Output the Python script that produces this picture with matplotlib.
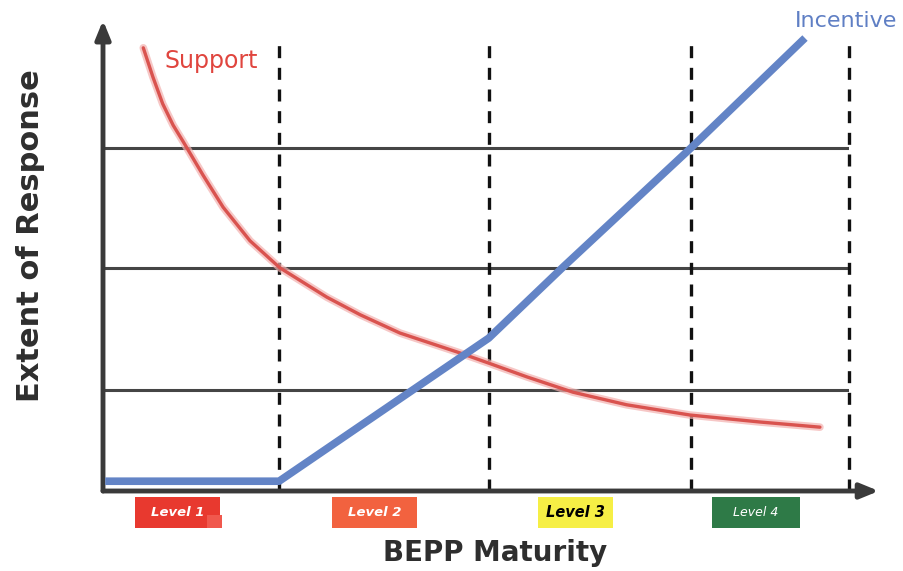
import matplotlib
matplotlib.use("Agg")
import matplotlib.pyplot as plt
from matplotlib.patches import Rectangle

# ---- data (arbitrary "maturity" and "response" units, 0-100) ----
level_labels = ["Level 1", "Level 2", "Level 3", "Level 4"]
level_bounds = [23.6, 51.7, 78.8, 100.0]          # dashed vertical lines
grid_levels = [21.7, 47.9, 73.6]                  # horizontal gridlines

support_x = [5.4, 6.7, 8.0, 9.4, 10.7, 13.4, 16.1, 19.7, 23.7, 30.0, 34.5,
             39.8, 47.9, 51.6, 56.8, 63.0, 70.2, 78.7, 88.1, 96.1]
support_y = [95.1, 88.8, 83.1, 78.5, 75.1, 67.8, 60.9, 53.7, 47.9, 41.6, 37.8,
             33.9, 29.6, 27.5, 24.5, 21.2, 18.5, 16.3, 14.8, 13.7]

incentive_x = [0.3, 23.6, 51.7, 61.7, 78.8, 94.1]
incentive_y = [2.1, 2.1, 32.8, 48.1, 73.6, 97.2]

# ---- layout / styling ----
box_left = [4.3, 30.7, 58.3, 81.6]
box_right = [15.7, 42.1, 68.4, 93.4]
box_colors = ["#e8392f", "#f2623f", "#f6ef45", "#2e7a47"]
box_text_colors = ["white", "white", "black", "white"]
box_text_size = [9.5, 9.5, 10.5, 9]
box_text_weight = ["bold", "bold", "bold", "normal"]

W, H = 904, 571
fig = plt.figure(figsize=(W / 100, H / 100), dpi=100)
fig.patch.set_facecolor("white")

left_px, right_px, bottom_px, top_px = 103, 849, 491, 25
ax = fig.add_axes([left_px / W, (H - bottom_px) / H,
                   (right_px - left_px) / W, (bottom_px - top_px) / H])
ax.set_xlim(0, 100)
ax.set_ylim(0, 100)
ax.axis("off")

axis_col = "#3a3a3a"

# horizontal gridlines
ax.hlines(grid_levels, 0, 100, colors="#454545", linewidth=2.2, zorder=1)

# dashed verticals
for xb in level_bounds:
    ax.vlines(xb, 0, 97.5, colors="#111111", linewidth=2.4,
              linestyles=(0, (3.6, 2.9)), zorder=1, clip_on=False)

# curves
ax.plot(support_x, support_y, color="#f3b0ae", linewidth=5.5, alpha=0.7,
        solid_capstyle="round", zorder=2)
ax.plot(support_x, support_y, color="#d9534f", linewidth=2.4,
        solid_capstyle="round", zorder=3)
ax.plot(incentive_x, incentive_y, color="#6384c6", linewidth=5.5,
        solid_capstyle="butt", zorder=4, clip_on=False)

# axes with arrows
ax.annotate("", xy=(104.0, 0), xytext=(0, 0), xycoords="data",
            annotation_clip=False,
            arrowprops=dict(arrowstyle="-|>,head_length=1.1,head_width=0.45",
                            color=axis_col, lw=3.5, shrinkA=0, shrinkB=0))
ax.annotate("", xy=(0, 101.0), xytext=(0, 0), xycoords="data",
            annotation_clip=False,
            arrowprops=dict(arrowstyle="-|>,head_length=1.1,head_width=0.45",
                            color=axis_col, lw=3.5, shrinkA=0, shrinkB=0))

# series labels
ax.text(8.3, 92.3, "Support", color="#e0453e", fontsize=17, ha="left",
        va="center", family="DejaVu Sans")
ax.text(92.7, 100.8, "Incentive", color="#5f7fc4", fontsize=16, ha="left",
        va="center", family="DejaVu Sans", clip_on=False)

# level boxes
box_y0, box_y1 = -8.0, -1.3
for lab, x0, x1, fc, tc, fs, fw in zip(level_labels, box_left, box_right,
                                        box_colors, box_text_colors,
                                        box_text_size, box_text_weight):
    ax.add_patch(Rectangle((x0, box_y0), x1 - x0, box_y1 - box_y0,
                           facecolor=fc, edgecolor="none", clip_on=False))
    ax.text((x0 + x1) / 2, (box_y0 + box_y1) / 2, lab, ha="center",
            va="center", fontsize=fs, style="italic", weight=fw, color=tc,
            clip_on=False)
# small red tab on the Level 1 box (as in the original image)
ax.add_patch(Rectangle((14.0, box_y0), 1.9, 2.9, facecolor="#f0584d",
                       edgecolor="none", clip_on=False))

# axis titles
fig.text(495 / W, 1 - 553 / H, "BEPP Maturity", ha="center", va="center",
         fontsize=20, weight="bold", color="#2e2e2e", family="DejaVu Sans")
fig.text(31 / W, 1 - 236 / H, "Extent of Response", ha="center", va="center",
         rotation=90, fontsize=22, weight="bold", color="#2e2e2e",
         family="DejaVu Sans")

fig.savefig("out.png", dpi=100, facecolor="white")
